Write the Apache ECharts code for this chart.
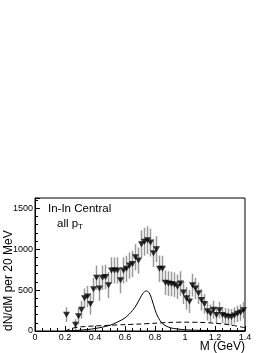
<!DOCTYPE html>
<html><head><meta charset="utf-8">
<script src="https://cdn.jsdelivr.net/npm/echarts@6/dist/echarts.min.js"></script>
<style>html,body{margin:0;padding:0;background:#fff;}#c{width:273px;height:353px;}</style>
</head><body><div id="c"></div>
<script>
// Data points (bin centres, GeV) and dN/dM values with errors
const mass = [0.21,0.27,0.29,0.31,0.33,0.35,0.37,0.39,0.41,0.43,0.45,0.47,0.49,0.51,0.53,0.55,0.57,0.59,0.61,0.63,0.65,0.67,0.69,0.71,0.73,0.75,0.77,0.79,0.81,0.83,0.85,0.87,0.89,0.91,0.93,0.95,0.97,0.99,1.01,1.03,1.05,1.07,1.09,1.11,1.13,1.15,1.17,1.19,1.21,1.23,1.25,1.27,1.29,1.31,1.33,1.35,1.37,1.39];
const counts = [200,75,180,260,400,420,330,510,650,520,650,660,560,740,740,740,620,740,760,800,820,900,860,1060,1090,1110,1080,950,1000,760,760,590,580,575,565,540,580,470,400,360,560,520,460,380,330,240,215,260,195,255,195,180,175,170,190,210,225,255];
const errors = [90,70,100,110,120,130,130,140,150,150,150,150,160,160,160,160,160,160,160,160,160,160,160,170,170,170,170,170,160,160,160,150,150,150,150,150,150,140,140,140,140,130,130,130,120,110,110,110,100,100,100,100,100,100,100,100,100,100];
// Solid curve (rho)
const rhoM = [0.20,0.30,0.40,0.50,0.55,0.60,0.65,0.68,0.70,0.72,0.74,0.76,0.78,0.80,0.82,0.85,0.90,0.95,1.00,1.10,1.20,1.40];
const rhoV = [0,10,30,70,110,160,250,330,400,460,490,470,380,260,170,90,40,25,15,8,5,2];
// Dashed curve
const dashM = [0.20,0.22,0.25,0.30,0.40,0.50,0.60,0.70,0.80,0.90,1.00,1.10,1.20,1.30,1.40];
const dashV = [0,15,35,50,62,70,78,85,95,105,108,105,95,75,40];
const xTicks = [0,0.2,0.4,0.6,0.8,1,1.2,1.4];
const yTicks = [0,500,1000,1500];

const pts = mass.map((m,i)=>[m,counts[i],errors[i]]);
const chart = echarts.init(document.getElementById('c'));
const font = 'Liberation Sans, Arial, sans-serif';
chart.setOption({
  animation:false,
  grid:{left:35, top:198, width:210, height:133, show:true, borderColor:'#000', borderWidth:1, backgroundColor:'transparent'},
  xAxis:{type:'value', min:0, max:1.4, interval:0.2,
    axisLine:{show:true, lineStyle:{color:'#000'}},
    axisTick:{inside:true, length:5, lineStyle:{color:'#000'}},
    minorTick:{show:true, splitNumber:4, length:3, lineStyle:{color:'#000'}},
    splitLine:{show:false},
    axisLabel:{fontFamily:font, fontSize:9, color:'#000', margin:2,
      formatter:v=>{const t=xTicks.find(k=>Math.abs(k-v)<1e-6); return t===undefined?'':String(t);}}},
  yAxis:{type:'value', min:0, max:1625, interval:500,
    axisLine:{show:true, lineStyle:{color:'#000'}},
    axisTick:{inside:true, length:5, lineStyle:{color:'#000'}},
    minorTick:{show:true, splitNumber:5, length:3, lineStyle:{color:'#000'}},
    splitLine:{show:false},
    axisLabel:{fontFamily:font, fontSize:9, color:'#000', margin:2,
      formatter:v=>yTicks.indexOf(v)>=0?String(v):''}},
  graphic:[
    {type:'text', left:48, top:203, style:{text:'In-In Central', font:'11.5px '+font, fill:'#000'}},
    {type:'text', left:57, top:218, style:{rich:{a:{fontSize:11.5,fontFamily:font,fill:'#000'},s:{fontSize:8,fontFamily:font,fill:'#000',verticalAlign:'bottom',padding:[6,0,0,0]}}, text:'{a|all p}{s|T}'}},
    {type:'text', right:28, top:341, style:{text:'M (GeV)', font:'12px '+font, fill:'#000'}},
    {type:'text', x:3, y:331, rotation:Math.PI/2, style:{text:'dN/dM per 20 MeV', font:'12px '+font, fill:'#000', textAlign:'left', textVerticalAlign:'top'}}
  ],
  series:[
    {type:'custom', data:pts, z:2, renderItem:(params,api)=>{
      const x=api.value(0), y=api.value(1), e=api.value(2);
      const p1=api.coord([x,y-e]), p2=api.coord([x,y+e]);
      return {type:'line', shape:{x1:p1[0],y1:p1[1],x2:p2[0],y2:p2[1]}, style:{stroke:'#999', lineWidth:1.5}};
    }},
    {type:'line', data:rhoM.map((m,i)=>[m,rhoV[i]]), smooth:0.3, symbol:'none', lineStyle:{color:'#000', width:1}, z:3},
    {type:'line', data:dashM.map((m,i)=>[m,dashV[i]]), smooth:0.3, symbol:'none', lineStyle:{color:'#000', width:1, type:[5,3]}, z:3},
    {type:'scatter', data:pts, symbol:'triangle', symbolRotate:180, symbolSize:[7,6], itemStyle:{color:'#000'}, z:4}
  ]
});
</script></body></html>
